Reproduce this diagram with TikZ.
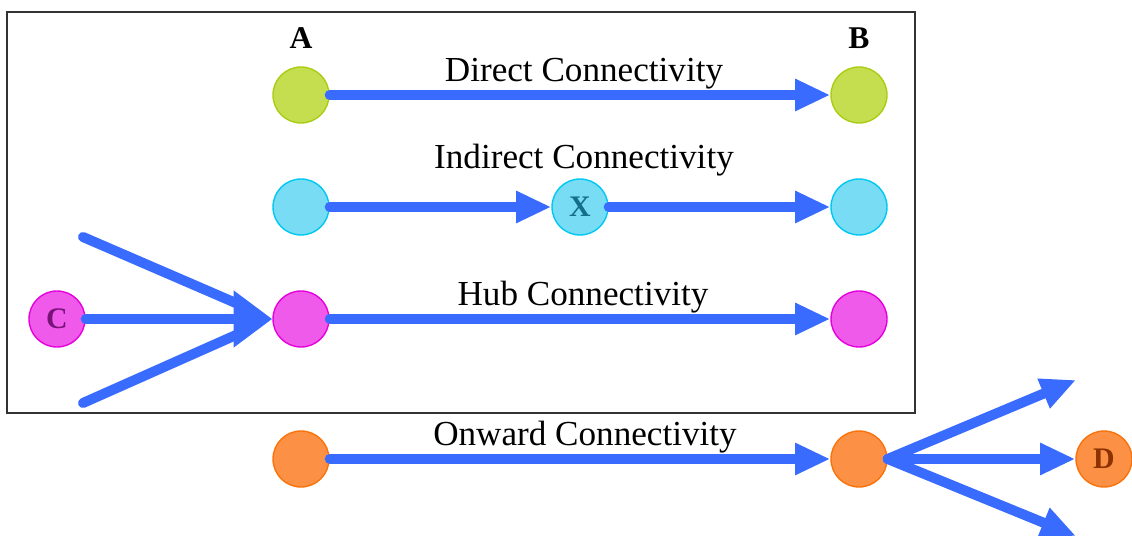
\documentclass[tikz,border=0pt]{standalone}
\usepackage{fontspec}
\setmainfont{Liberation Serif}
\usetikzlibrary{arrows.meta}
\definecolor{arr}{RGB}{58,107,255}
\definecolor{gfill}{RGB}{196,222,80}\definecolor{gline}{RGB}{170,205,20}
\definecolor{cfill}{RGB}{120,220,245}\definecolor{cline}{RGB}{0,200,240}
\definecolor{mfill}{RGB}{240,90,235}\definecolor{mline}{RGB}{230,0,220}
\definecolor{ofill}{RGB}{252,145,70}\definecolor{oline}{RGB}{250,115,10}
\tikzset{
  dot/.style={circle,minimum size=1.12cm,inner sep=0pt,line width=0.8pt,font=\bfseries\fontsize{17}{17}\selectfont},
  gdot/.style={dot,fill=gfill,draw=gline},
  cdot/.style={dot,fill=cfill,draw=cline,text={rgb,255:red,20;green,110;blue,140}},
  mdot/.style={dot,fill=mfill,draw=mline,text={rgb,255:red,120;green,20;blue,120}},
  odot/.style={dot,fill=ofill,draw=oline,text={rgb,255:red,140;green,50;blue,0}},
  conn/.style={draw=arr,line width=5.7pt,line cap=round,-{Triangle[length=20pt,width=17pt]}},
  plainline/.style={draw=arr,line width=5.7pt,line cap=round},
  lbl/.style={font=\fontsize{20}{20}\selectfont},
  hdr/.style={font=\bfseries\fontsize{18}{18}\selectfont}
}
\begin{document}
\begin{tikzpicture}[x=0.02cm,y=-0.02cm]
\useasboundingbox (0,0) rectangle (1132,536);
\draw[line width=1pt,draw=black!80] (7,12) rectangle (915,413);
\node[hdr] (ha) at (301,38) {A};
\node[hdr] (hb) at (859,38) {B};
% row 1
\node[gdot] (a1) at (301,95) {};
\node[gdot] (b1) at (859,95) {};
\node[lbl] (l1) at (584,74) {Direct Connectivity};
% row 2
\node[cdot] (a2) at (301,207) {};
\node[cdot] (x2) at (580,207) {X};
\node[cdot] (b2) at (859,207) {};
\node[lbl] (l2) at (584,160) {Indirect Connectivity};
% row 3
\node[mdot] (c3) at (57,319) {C};
\node[mdot] (a3) at (301,319) {};
\node[mdot] (b3) at (859,319) {};
\node[lbl] (l3) at (583,297) {Hub Connectivity};
\coordinate (h1) at (83,237);
\coordinate (h2) at (83,403);
% row 4
\node[odot] (a4) at (301,459) {};
\node[odot] (b4) at (859,459) {};
\node[odot] (d4) at (1104,459) {D};
\node[lbl] (l4) at (585,437) {Onward Connectivity};
\coordinate (o1) at (1076,380);
\coordinate (o2) at (1076,536);
% connectors
\draw[conn] (a1.east) -- (b1.west);
\draw[conn] (a2.east) -- (x2.west);
\draw[conn] (x2.east) -- (b2.west);
\draw[conn] (a3.east) -- (b3.west);
\draw[plainline] (h1) -- (245,307);
\draw[plainline] (h2) -- (245,331);
\draw[draw=arr,line width=5.7pt,line cap=round,-{Triangle[length=22pt,width=31pt]}] (c3.east) -- (a3.west);
\draw[conn] (a4.east) -- (b4.west);
\draw[conn] (b4.east) -- (o1);
\draw[conn] (b4.east) -- (d4.west);
\draw[conn] (b4.east) -- (o2);
\end{tikzpicture}
\end{document}
